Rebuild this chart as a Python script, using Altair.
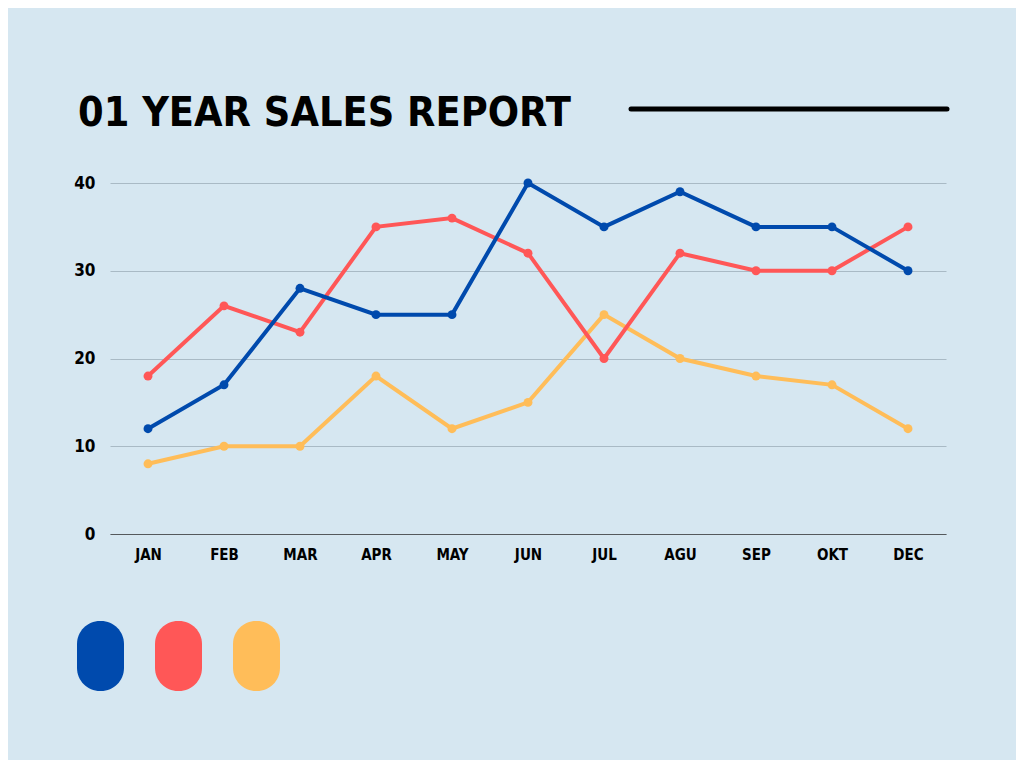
import altair as alt
import pandas as pd

months = ["JAN", "FEB", "MAR", "APR", "MAY", "JUN", "JUL", "AGU", "SEP", "OKT", "DEC"]
series_names = ["Series 1", "Series 2", "Series 3"]
blue = [12, 17, 28, 25, 25, 40, 35, 39, 35, 35, 30]
red = [18, 26, 23, 35, 36, 32, 20, 32, 30, 30, 35]
yellow = [8, 10, 10, 18, 12, 15, 25, 20, 18, 17, 12]
colors = ["#004AAD", "#FF5757", "#FFBD59"]
y_ticks = [0, 10, 20, 30, 40]
title_text = "01 YEAR SALES REPORT"

FONT = "DejaVu Sans Condensed"
BG = "#D6E7F1"

rows = []
for name, vals in zip(series_names, [blue, red, yellow]):
    for m, v in zip(months, vals):
        rows.append({"month": m, "sales": v, "series": name})
df = pd.DataFrame(rows)

x_enc = alt.X(
    "month:N",
    sort=months,
    scale=alt.Scale(type="point", padding=0.5),
    axis=alt.Axis(
        title=None, labelAngle=0, ticks=False, domainColor="#55595c", domainWidth=1.2,
        labelPadding=13, labelFont=FONT, labelFontSize=15, labelFontWeight="bold",
        labelColor="black", grid=False,
    ),
)
y_enc = alt.Y(
    "sales:Q",
    scale=alt.Scale(domain=[0, 40], nice=False),
    axis=alt.Axis(
        title=None, values=y_ticks, ticks=False, domain=False, grid=True,
        gridColor="#A9BAC5", gridWidth=1, labelPadding=15, labelFont=FONT,
        labelFontSize=17, labelFontWeight="bold", labelColor="black",
    ),
)
color_enc = alt.Color("series:N", scale=alt.Scale(domain=series_names, range=colors), legend=None)

layers = []
for name in reversed(series_names):
    base = alt.Chart(df).transform_filter(alt.datum.series == name).encode(x=x_enc, y=y_enc, color=color_enc)
    layers.append(base.mark_line(strokeWidth=4))
    layers.append(base.mark_circle(size=80, opacity=1))

title_df = pd.DataFrame({"t": [title_text]})
title = alt.Chart(title_df).mark_text(
    font=FONT, fontSize=41, fontWeight="bold", color="black", align="left", baseline="alphabetic"
).encode(x=alt.value(-32), y=alt.value(-57), text="t:N")

rule = alt.Chart(title_df).mark_rule(strokeWidth=5, strokeCap="round", color="black").encode(
    x=alt.value(521), x2=alt.value(837), y=alt.value(-74)
)

pill_layers = []
pill_x = [-33, 45, 123]
for name, c, px in zip(series_names, colors, pill_x):
    pdf = pd.DataFrame({"series": [name]})
    pill_layers.append(
        alt.Chart(pdf).mark_rect(cornerRadius=23, color=c).encode(
            x=alt.value(px), x2=alt.value(px + 47), y=alt.value(438), y2=alt.value(508)
        )
    )

chart = alt.layer(*layers, title, rule, *pill_layers).properties(
    width=836, height=351,
    autosize=alt.AutoSizeParams(type="none"),
    padding={"left": 102, "top": 175, "right": 70, "bottom": 226},
    background=BG,
).configure_view(strokeWidth=0)

chart.save("out.html", embed_options={"renderer": "svg", "actions": False})
